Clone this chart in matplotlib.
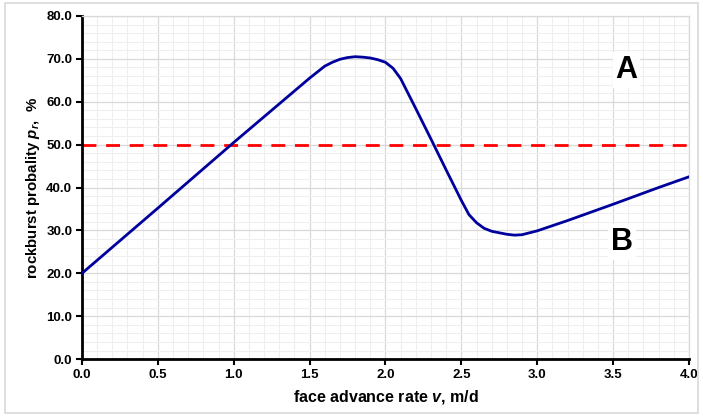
import numpy as np
import matplotlib
matplotlib.use("Agg")
from matplotlib import pyplot as plt
from matplotlib.patches import Rectangle
from matplotlib.ticker import MultipleLocator

plt.rcParams['font.family'] = ['Liberation Sans', 'DejaVu Sans']
plt.rcParams['font.weight'] = 'bold'
plt.rcParams['mathtext.fontset'] = 'custom'
plt.rcParams['mathtext.it'] = 'Liberation Sans:italic:bold'
plt.rcParams['mathtext.rm'] = 'Liberation Sans:bold'

# 曲线数据
rate = [0.0, 0.5, 1.0, 1.5, 1.6, 1.65, 1.7, 1.75, 1.8, 1.85, 1.9, 1.95, 2.0,
        2.05, 2.1, 2.2, 2.3, 2.4, 2.5, 2.55, 2.6, 2.65, 2.7, 2.8, 2.85, 2.9,
        3.0, 3.2, 3.5, 3.8, 4.0]
prob = [20.0, 35.2, 50.5, 65.5, 68.3, 69.2, 69.9, 70.3, 70.5, 70.4, 70.2, 69.8, 69.2,
        67.8, 65.4, 58.4, 51.3, 44.1, 37.0, 33.7, 31.8, 30.5, 29.8, 29.1, 28.9, 29.0,
        29.9, 32.3, 36.1, 40.0, 42.5]
threshold = 50.0
x_ticks = [0.0, 0.5, 1.0, 1.5, 2.0, 2.5, 3.0, 3.5, 4.0]
y_ticks = [0, 10, 20, 30, 40, 50, 60, 70, 80]

fig = plt.figure(figsize=(7.03, 4.2), dpi=100)
fig.patches.append(Rectangle((0.007, 0.017), 0.986, 0.976, transform=fig.transFigure,
                             fill=False, edgecolor='#d9d9d9', linewidth=1.2))
ax = fig.add_axes([0.1166, 0.145, 0.8634, 0.817])

# 网格
ax.xaxis.set_minor_locator(MultipleLocator(0.1))
ax.yaxis.set_minor_locator(MultipleLocator(2))
ax.grid(which='minor', color='#efefef', linewidth=0.8)
ax.grid(which='major', color='#d9d9d9', linewidth=0.9)
ax.set_axisbelow(True)

# 曲线和阈值线
ax.plot(rate, prob, color='#00009c', linewidth=2.0, zorder=3)
ax.axhline(threshold, color='#ff0000', linewidth=2.0, dashes=(5, 3.5), zorder=2)

ax.set_xlim(0, 4)
ax.set_ylim(0, 80)
ax.set_xticks(x_ticks)
ax.set_yticks(y_ticks)
ax.set_xticklabels(['%.1f' % v for v in x_ticks])
ax.set_yticklabels(['%.1f' % v for v in y_ticks])
ax.tick_params(which='major', direction='out', length=4, width=1.5, labelsize=9.5, pad=3)
ax.tick_params(which='minor', length=0)

for side in ['left', 'bottom']:
    ax.spines[side].set_color('black')
    ax.spines[side].set_linewidth(2)
for side in ['top', 'right']:
    ax.spines[side].set_color('#d9d9d9')
    ax.spines[side].set_linewidth(0.9)

ax.set_xlabel(r'face advance rate $v$, m/d', fontsize=11.5, fontweight='bold', labelpad=5)
ax.set_ylabel(r'rockburst probality $p_r$,  %', fontsize=10.8, fontweight='bold', labelpad=3)

box = dict(facecolor='white', edgecolor='none', pad=2)
ax.text(3.59, 67.4, 'A', fontsize=22, fontweight='bold', ha='center', va='center', bbox=box)
ax.text(3.56, 27.3, 'B', fontsize=22, fontweight='bold', ha='center', va='center', bbox=box)

fig.savefig('out.png', dpi=100)
